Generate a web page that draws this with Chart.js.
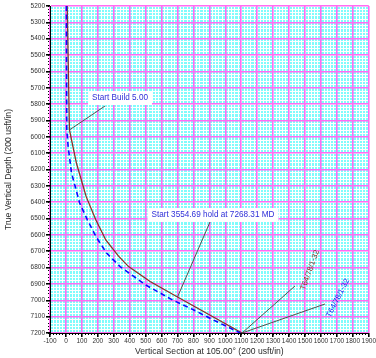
<!DOCTYPE html>
<html>
<head>
<meta charset="utf-8">
<script src="https://cdn.jsdelivr.net/npm/chart.js@4.4.0/dist/chart.umd.min.js"></script>
<style>
  html, body { margin: 0; padding: 0; background: #ffffff; }
  #wrap { width: 376px; height: 358px; }
</style>
</head>
<body>
<div id="wrap"><canvas id="chart" width="376" height="358"></canvas></div>
<script>
// Well plan (solid) and actual survey (dashed): vertical section vs. true vertical depth, usft
const planVS  = [8, 22, 66, 127, 188, 250, 330, 393, 528, 700, 1105];
const planTVD = [5200, 5958, 6162, 6366, 6509, 6631, 6730, 6794, 6885, 6980, 7200];

const surveyVS  = [3, 5, 14, 35, 86, 135, 190, 255, 340, 500, 669, 802, 924, 1055, 1095];
const surveyTVD = [5200, 5955, 6061, 6221, 6405, 6509, 6613, 6711, 6794, 6906, 6998, 7059, 7120, 7182, 7200];

// Axis ranges and tick spacing
const vsRange  = [-100, 1900];
const tvdRange = [5200, 7200];
const majorStep = 100;
const minorStep = 20;

// Callout texts
const buildLabel  = 'Start Build 5.00';
const holdLabel   = 'Start 3554.69 hold at 7268.31 MD';
const targetLabel = 'T64/78/1-32';

const toPoints = (xs, ys) => xs.map((x, i) => ({ x: x, y: ys[i] }));

const FONT = 'Arial, "Liberation Sans", sans-serif';
const MAGENTA = '#ff6cf2';
const CYAN = '#80fcfc';
const PLAN_COLOR = '#8a3228';
const SURVEY_COLOR = '#0a0aff';

// Cyan plot background
const plotBackground = {
  id: 'plotBackground',
  beforeDraw(chart) {
    const { ctx, chartArea: a } = chart;
    ctx.save();
    ctx.fillStyle = CYAN;
    ctx.fillRect(a.left, a.top, a.right - a.left, a.bottom - a.top);
    ctx.restore();
  }
};

// Callout boxes, leader lines and rotated target names
const callouts = {
  id: 'callouts',
  afterDatasetsDraw(chart) {
    const { ctx, scales } = chart;
    const px = (vs) => scales.x.getPixelForValue(vs);
    const py = (tvd) => scales.y.getPixelForValue(tvd);
    const leader = (x1, y1, x2, y2) => {
      ctx.beginPath();
      ctx.moveTo(x1, y1);
      ctx.lineTo(x2, y2);
      ctx.strokeStyle = '#55504c';
      ctx.lineWidth = 1;
      ctx.stroke();
    };
    const boxed = (text, cx, cy) => {
      ctx.font = '8.2px ' + FONT;
      const w = ctx.measureText(text).width + 8;
      ctx.fillStyle = '#ffffff';
      ctx.fillRect(cx - w / 2, cy - 7, w, 14);
      ctx.fillStyle = '#2f2fd8';
      ctx.textAlign = 'center';
      ctx.textBaseline = 'middle';
      ctx.fillText(text, cx, cy);
    };
    const rotated = (text, cx, cy, deg, color) => {
      ctx.save();
      ctx.translate(cx, cy);
      ctx.rotate(deg * Math.PI / 180);
      ctx.font = '7.8px ' + FONT;
      ctx.fillStyle = color;
      ctx.textAlign = 'center';
      ctx.textBaseline = 'middle';
      ctx.fillText(text, 0, 0);
      ctx.restore();
    };

    ctx.save();
    // kick-off point
    const kx = px(planVS[1]), ky = py(planTVD[1]);
    leader(105, 106, kx, ky);
    boxed(buildLabel, 120, 98);

    // start of tangent
    const hx = px(planVS[9]), hy = py(planTVD[9]);
    leader(210, 222, hx, hy);
    boxed(holdLabel, 213, 215);

    // target at TD
    const last = planVS.length - 1;
    const tx = px(planVS[last]), ty = py(planTVD[last]);
    leader(tx, ty, 295, 286);
    leader(tx, ty, 325, 304);
    rotated(targetLabel, 310, 270, -70, PLAN_COLOR);
    rotated(targetLabel, 338, 298, -63, '#2020ee');
    ctx.restore();
  }
};

const tickFont = { family: FONT, size: 6.5 };
const titleFont = { family: FONT, size: 8.6 };
const plainNumber = (v) => String(v);

new Chart(document.getElementById('chart'), {
  type: 'scatter',
  data: {
    datasets: [
      {
        label: 'Survey',
        data: toPoints(surveyVS, surveyTVD),
        showLine: true,
        borderColor: SURVEY_COLOR,
        borderWidth: 1.6,
        borderDash: [5, 3.5],
        pointRadius: 0,
        fill: false,
        xAxisID: 'x',
        yAxisID: 'y'
      },
      {
        label: 'Plan',
        data: toPoints(planVS, planTVD),
        showLine: true,
        borderColor: PLAN_COLOR,
        borderWidth: 1.3,
        pointRadius: 0,
        fill: false,
        xAxisID: 'x',
        yAxisID: 'y'
      }
    ]
  },
  options: {
    responsive: false,
    animation: false,
    devicePixelRatio: 1,
    layout: { padding: { top: 6, right: 0, left: 0, bottom: 0 } },
    plugins: {
      legend: { display: false },
      tooltip: { enabled: false }
    },
    scales: {
      // fine white grid
      x2: {
        type: 'linear',
        position: 'bottom',
        weight: 0,
        min: vsRange[0], max: vsRange[1],
        afterFit(s) { s.height = 0; },
        ticks: { display: false, stepSize: minorStep },
        grid: { color: '#ffffff', lineWidth: 1, tickLength: 2, tickColor: '#000000', z: -2 },
        border: { display: false }
      },
      y2: {
        type: 'linear',
        position: 'left',
        weight: 0,
        reverse: true,
        min: tvdRange[0], max: tvdRange[1],
        afterFit(s) { s.width = 0; },
        ticks: { display: false, stepSize: minorStep },
        grid: { color: '#ffffff', lineWidth: 1, tickLength: 2, tickColor: '#000000', z: -2 },
        border: { display: false }
      },
      // labelled magenta grid
      x: {
        type: 'linear',
        position: 'bottom',
        weight: 1,
        min: vsRange[0], max: vsRange[1],
        afterFit(s) { s.height = 25; },
        ticks: {
          stepSize: majorStep,
          autoSkip: false,
          maxRotation: 0,
          minRotation: 0,
          padding: 0,
          color: '#333333',
          font: tickFont,
          callback: plainNumber
        },
        grid: { color: MAGENTA, lineWidth: 1.6, tickLength: 4, tickColor: '#000000', z: -1 },
        border: { display: true, color: '#000000', width: 1 },
        title: {
          display: true,
          text: 'Vertical Section at 105.00° (200 usft/in)',
          color: '#2a2a2a',
          font: titleFont,
          padding: { top: 0, bottom: 1 }
        }
      },
      y: {
        type: 'linear',
        position: 'left',
        weight: 1,
        reverse: true,
        min: tvdRange[0], max: tvdRange[1],
        afterFit(s) { s.width = 50; },
        ticks: {
          stepSize: majorStep,
          autoSkip: false,
          padding: 1,
          color: '#333333',
          font: tickFont,
          callback: plainNumber
        },
        grid: { color: MAGENTA, lineWidth: 1.6, tickLength: 4, tickColor: '#000000', z: -1 },
        border: { display: true, color: '#000000', width: 1 },
        title: {
          display: true,
          text: 'True Vertical Depth (200 usft/in)',
          color: '#2a2a2a',
          font: titleFont,
          padding: { top: 3, bottom: 0 }
        }
      }
    }
  },
  plugins: [plotBackground, callouts]
});
</script>
</body>
</html>
